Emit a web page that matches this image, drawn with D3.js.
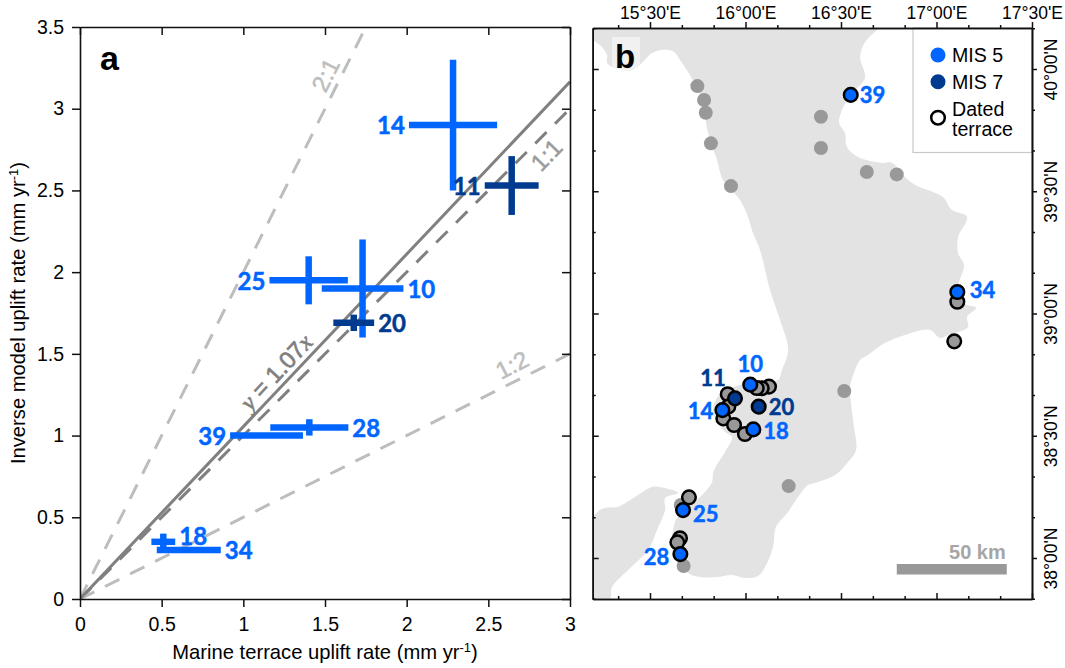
<!DOCTYPE html>
<html>
<head>
<meta charset="utf-8">
<script src="https://cdn.jsdelivr.net/npm/d3@7"></script>
<style>
  body { margin: 0; background: #fff; }
  text { font-family: "Liberation Sans", Arial, sans-serif; fill: #000; }
</style>
</head>
<body>
<div id="chart"></div>
<script>
// Panel a: uplift rates per site (mm/yr)
const siteIds = [14, 11, 25, 10, 20, 39, 28, 18, 34];
const terraceRate = [2.284, 2.643, 1.40, 1.73, 1.676, 1.142, 1.404, 0.51, 0.666];
const terraceErr = [0.27, 0.165, 0.24, 0.25, 0.125, 0.223, 0.239, 0.073, 0.196];
const modelRate = [2.90, 2.53, 1.95, 1.90, 1.69, 1.00, 1.05, 0.35, 0.30];
const modelErr = [0.40, 0.18, 0.147, 0.30, 0.05, 0, 0.05, 0.05, 0];
const siteStage = [5, 7, 5, 5, 7, 5, 5, 5, 5];

const refSlopes = [2, 1, 0.5];
const fitSlope = 1.055; // drawn slope
const xTicks = [0, 0.5, 1, 1.5, 2, 2.5, 3];
const yTicks = [0, 0.5, 1, 1.5, 2, 2.5, 3, 3.5];

// Panel b: coast outlines as [lon, lat]
const mainlandCoast = [
  [15.2, 40.119], [15.238, 40.098], [15.275, 40.057], [15.275, 40.025], [15.317, 40.004],
  [15.411, 39.996], [15.463, 40.029], [15.51, 40.065], [15.563, 40.078], [15.626, 40.07],
  [15.657, 40.037], [15.709, 39.975], [15.772, 39.873], [15.804, 39.738], [15.851, 39.628],
  [15.882, 39.546], [15.971, 39.464], [16.013, 39.395], [16.039, 39.329], [16.076, 39.26],
  [16.128, 39.096], [16.181, 38.973], [16.223, 38.851], [16.191, 38.769], [16.17, 38.728],
  [16.076, 38.728], [15.971, 38.708], [15.877, 38.679], [15.83, 38.614], [15.846, 38.564],
  [15.893, 38.515], [15.929, 38.495], [15.893, 38.434], [15.856, 38.389], [15.83, 38.348],
  [15.825, 38.311], [15.762, 38.249], [15.699, 38.209], [15.641, 38.164], [15.615, 38.086],
  [15.62, 38.02], [15.647, 37.98], [15.699, 37.939], [15.762, 37.922], [15.856, 37.922],
  [15.929, 37.93], [15.997, 37.918], [16.065, 37.926], [16.113, 37.98], [16.144, 38.045],
  [16.16, 38.127], [16.223, 38.188], [16.275, 38.249], [16.327, 38.299], [16.364, 38.307],
  [16.469, 38.339], [16.537, 38.393], [16.579, 38.442], [16.568, 38.536], [16.552, 38.634],
  [16.547, 38.699], [16.568, 38.757], [16.6, 38.81], [16.641, 38.83], [16.73, 38.879],
  [16.835, 38.912], [16.966, 38.933], [17.018, 38.9], [17.06, 38.912], [17.165, 38.945],
  [17.16, 38.986], [17.207, 39.023], [17.139, 39.043], [17.113, 39.108], [17.144, 39.198],
  [17.113, 39.247], [17.113, 39.313], [17.16, 39.395], [17.081, 39.423], [17.034, 39.476],
  [16.982, 39.497], [16.888, 39.526], [16.835, 39.558], [16.767, 39.616], [16.715, 39.616],
  [16.589, 39.64], [16.531, 39.681], [16.521, 39.738], [16.49, 39.779], [16.505, 39.832],
  [16.558, 39.902], [16.626, 39.963], [16.6, 40.049], [16.626, 40.11], [16.689, 40.16],
  [16.704, 40.168], [15.2, 40.168]
];
const sicilyCoast = [
  [15.2, 38.168], [15.238, 38.196], [15.264, 38.205], [15.332, 38.209], [15.421, 38.249],
  [15.51, 38.29], [15.552, 38.29], [15.647, 38.266], [15.579, 38.245], [15.579, 38.196],
  [15.537, 38.115], [15.49, 38.033], [15.385, 37.951], [15.301, 37.881], [15.29, 37.832],
  [15.2, 37.832]
];

// Sites on the map as [lon, lat]
const undatedSites = [
  [15.748, 39.93], [15.783, 39.873], [15.792, 39.821], [15.819, 39.696], [15.924, 39.521],
  [16.395, 39.805], [16.395, 39.677], [16.635, 39.579], [16.792, 39.569], [16.517, 38.683],
  [16.226, 38.294], [15.676, 37.967], [15.661, 38.217]
];
const datedSites = [
  [17.109, 39.048], [17.093, 38.886], [16.123, 38.701], [16.085, 38.694], [16.059, 38.695],
  [15.907, 38.67], [15.91, 38.619], [15.884, 38.571], [15.94, 38.544], [15.997, 38.507],
  [15.704, 38.248], [15.657, 38.081], [15.643, 38.064]
];
const mis5Ids = [39, 34, 10, 14, 18, 25, 28];
const mis5Sites = [
  [16.551, 39.894], [17.109, 39.088], [16.025, 38.709], [15.879, 38.605],
  [16.041, 38.526], [15.673, 38.196], [15.659, 38.016]
];
const mis7Ids = [11, 20];
const mis7Sites = [[15.945, 38.653], [16.069, 38.619]];

const lonMajor = [15.5, 16, 16.5, 17, 17.5];
const lonMinor = [15.3333, 15.6667, 15.8333, 16.1667, 16.3333, 16.6667, 16.8333, 17.1667, 17.3333];
const latMajor = [38, 38.5, 39, 39.5, 40];
const latMinor = [37.8333, 38.1667, 38.3333, 38.6667, 38.8333, 39.1667, 39.3333, 39.6667, 39.8333, 40.1667];
const scaleBarLon = [16.792, 17.368];

const BLUE = "#0066ff";
const NAVY = "#003b90";
const LABEL_FONT = "Lato, 'Liberation Sans', sans-serif";

const svg = d3.select("#chart").append("svg")
  .attr("width", 1065)
  .attr("height", 668)
  .style("display", "block");

const stageColor = (s) => (s === 5 ? BLUE : NAVY);

const styleAxis = (g, fontSize) => {
  g.selectAll("path").attr("stroke", "#111").attr("stroke-width", 1.6);
  g.selectAll("line").attr("stroke", "#111").attr("stroke-width", 1.5);
  g.selectAll("text")
    .attr("font-family", "'Liberation Sans', Arial, sans-serif")
    .attr("font-size", fontSize)
    .attr("fill", "#000");
};

/**
 * Panel a
 */
const x = d3.scaleLinear().domain([0, 3]).range([80, 570]);
const y = d3.scaleLinear().domain([0, 3.5]).range([599, 27]);
const numFormat = d3.format("~g");

const panelA = svg.append("g");

panelA.append("clipPath").attr("id", "clip-a").append("rect")
  .attr("x", x(0)).attr("y", y(3.5))
  .attr("width", x(3) - x(0)).attr("height", y(0) - y(3.5));

const lines = panelA.append("g").attr("clip-path", "url(#clip-a)");

refSlopes.forEach((s) => {
  const xEnd = Math.min(3, 3.5 / s);
  lines.append("line")
    .attr("x1", x(0)).attr("y1", y(0))
    .attr("x2", x(xEnd)).attr("y2", y(xEnd * s))
    .attr("stroke", s === 1 ? "#808080" : "#bdbdbd")
    .attr("stroke-width", 3)
    .attr("stroke-dasharray", "16,12");
});
lines.append("line")
  .attr("x1", x(0)).attr("y1", y(0))
  .attr("x2", x(3)).attr("y2", y(3 * fitSlope))
  .attr("stroke", "#808080")
  .attr("stroke-width", 3);

// Error bar crosses
const bars = panelA.append("g");
siteIds.forEach((id, i) => {
  const color = stageColor(siteStage[i]);
  bars.append("line")
    .attr("x1", x(terraceRate[i] - terraceErr[i])).attr("x2", x(terraceRate[i] + terraceErr[i]))
    .attr("y1", y(modelRate[i])).attr("y2", y(modelRate[i]))
    .attr("stroke", color).attr("stroke-width", 6.5);
  if (modelErr[i] > 0) {
    bars.append("line")
      .attr("x1", x(terraceRate[i])).attr("x2", x(terraceRate[i]))
      .attr("y1", y(modelRate[i] - modelErr[i])).attr("y2", y(modelRate[i] + modelErr[i]))
      .attr("stroke", color).attr("stroke-width", 6.5);
  }
});

// labels sit left or right of the horizontal bar
const leftLabels = [14, 11, 25, 39];
siteIds.forEach((id, i) => {
  const isLeft = leftLabels.includes(id);
  panelA.append("text")
    .attr("x", isLeft ? x(terraceRate[i] - terraceErr[i]) - 4 : x(terraceRate[i] + terraceErr[i]) + 4)
    .attr("y", y(modelRate[i]) + (id === 18 ? -5 : 1))
    .attr("dy", "0.35em")
    .attr("text-anchor", isLeft ? "end" : "start")
    .attr("font-size", 24)
    .attr("font-weight", 700)
    .attr("stroke", stageColor(siteStage[i]))
    .attr("stroke-width", 0.5)
    .style("font-family", LABEL_FONT)
    .style("fill", stageColor(siteStage[i]))
    .text(id);
});

panelA.append("g").attr("transform", `translate(0,${y(0)})`)
  .call(d3.axisBottom(x).tickValues(xTicks).tickFormat(numFormat).tickSize(8).tickSizeOuter(0).tickPadding(10))
  .call(styleAxis, 19.5);
panelA.append("g").attr("transform", `translate(${x(0)},0)`)
  .call(d3.axisLeft(y).tickValues(yTicks).tickFormat(numFormat).tickSize(8).tickSizeOuter(0).tickPadding(8))
  .call(styleAxis, 19.5);
panelA.append("g").attr("transform", `translate(0,${y(3.5)})`)
  .call(d3.axisBottom(x).tickValues(xTicks).tickFormat("").tickSize(8).tickSizeOuter(0))
  .call(styleAxis, 19.5);
panelA.append("g").attr("transform", `translate(${x(3)},0)`)
  .call(d3.axisLeft(y).tickValues(yTicks).tickFormat("").tickSize(8).tickSizeOuter(0))
  .call(styleAxis, 19.5);

const axisTitle = (parent, label, tx, ty, angle) => {
  const t = parent.append("text")
    .attr("transform", `translate(${tx},${ty}) rotate(${angle})`)
    .attr("text-anchor", "middle")
    .attr("font-size", 20.2);
  t.append("tspan").text(label + " (mm yr");
  t.append("tspan").attr("dy", -7).attr("font-size", 13).text("-1");
  t.append("tspan").attr("dy", 7).text(")");
};
axisTitle(panelA, "Marine terrace uplift rate", 325, 659, 0);
axisTitle(panelA, "Inverse model uplift rate", 25, 313, -90);

panelA.append("text")
  .attr("x", 100).attr("y", 70)
  .attr("font-size", 34).attr("font-weight", 700)
  .text("a");

const rotatedLabel = (label, cx, cy, angle, color) => panelA.append("text")
  .attr("transform", `translate(${cx},${cy}) rotate(${angle})`)
  .attr("text-anchor", "middle")
  .attr("dy", "0.35em")
  .attr("font-size", 24)
  .attr("stroke", color)
  .attr("stroke-width", 0.5)
  .style("fill", color)
  .text(label);
rotatedLabel("2:1", 325.5, 75, -63, "#bdbdbd");
rotatedLabel("1:1", 546.5, 155, -46, "#9a9a9a");
rotatedLabel("1:2", 512, 365, -27, "#bdbdbd");

const fitLabel = panelA.append("text")
  .attr("transform", "translate(276,372) rotate(-47)")
  .attr("text-anchor", "middle")
  .attr("dy", "0.35em")
  .attr("font-size", 23.5)
  .attr("stroke", "#808080")
  .attr("stroke-width", 0.7)
  .style("fill", "#808080");
fitLabel.append("tspan").style("font-family", "'Liberation Serif', serif").attr("font-style", "italic").text("y");
fitLabel.append("tspan").text(" = 1.07");
fitLabel.append("tspan").style("font-family", "'Liberation Serif', serif").attr("font-style", "italic").text("x");

/**
 * Panel b
 */
const lon = d3.scaleLinear().domain([15.2, 17.5]).range([592.7, 1032]);
const lat = d3.scaleLinear().domain([37.8323, 40.1677]).range([599, 28]);
const project = d3.line().x((d) => lon(d[0])).y((d) => lat(d[1]));
const smoothCoast = project.curve(d3.curveCatmullRom.alpha(0.5));

const panelB = svg.append("g");

panelB.append("clipPath").attr("id", "clip-b").append("rect")
  .attr("x", lon(15.2)).attr("y", lat(40.1677))
  .attr("width", lon(17.5) - lon(15.2)).attr("height", lat(37.8323) - lat(40.1677));

const map = panelB.append("g").attr("clip-path", "url(#clip-b)");
map.append("path").attr("d", smoothCoast(mainlandCoast) + "Z").attr("fill", "#e3e3e3");
map.append("path").attr("d", smoothCoast(sicilyCoast) + "Z").attr("fill", "#e3e3e3");

const drawSites = (sites, r, fill, stroke) => {
  map.append("g").selectAll("circle").data(sites).enter().append("circle")
    .attr("cx", (d) => lon(d[0]))
    .attr("cy", (d) => lat(d[1]))
    .attr("r", r)
    .attr("fill", fill)
    .attr("stroke", stroke)
    .attr("stroke-width", stroke === "none" ? 0 : 2.5);
};
drawSites(undatedSites, 7, "#999", "none");
drawSites(datedSites, 6.8, "#999", "#000");
drawSites(mis7Sites, 6.8, NAVY, "#000");
drawSites(mis5Sites, 6.8, BLUE, "#000");

// Label offsets from the site marker, in pixels: [dx, dy, anchor]
const mapLabelOffset = {
  39: [9, 0, "start"], 34: [12.5, -2, "start"], 10: [0, -20, "middle"], 14: [-9, 1, "end"],
  18: [10, 2, "start"], 25: [10, 4, "start"], 28: [-11, 3, "end"], 11: [-22, -20, "middle"],
  20: [10, 1, "start"]
};
const drawMapLabels = (ids, sites, color) => {
  ids.forEach((id, i) => {
    const [dx, dy, anchor] = mapLabelOffset[id];
    panelB.append("text")
      .attr("x", lon(sites[i][0]) + dx)
      .attr("y", lat(sites[i][1]) + dy)
      .attr("dy", "0.35em")
      .attr("text-anchor", anchor)
      .attr("font-size", 22)
      .attr("font-weight", 700)
      .attr("stroke", color)
      .attr("stroke-width", 0.5)
      .style("font-family", LABEL_FONT)
      .style("fill", color)
      .text(id);
  });
};
drawMapLabels(mis5Ids, mis5Sites, BLUE);
drawMapLabels(mis7Ids, mis7Sites, NAVY);

// Light patch behind the panel letter
panelB.append("rect")
  .attr("x", 612).attr("y", 37).attr("width", 28).attr("height", 33)
  .attr("fill", "#fff").attr("fill-opacity", 0.5);
panelB.append("text")
  .attr("x", 615).attr("y", 68)
  .attr("font-size", 33).attr("font-weight", 700)
  .text("b");

// Scale bar
panelB.append("rect")
  .attr("x", lon(scaleBarLon[0])).attr("y", 564)
  .attr("width", lon(scaleBarLon[1]) - lon(scaleBarLon[0])).attr("height", 10.5)
  .attr("fill", "#999");
panelB.append("text")
  .attr("x", lon(scaleBarLon[1]) - 1).attr("y", 559)
  .attr("text-anchor", "end")
  .attr("font-size", 20).attr("font-weight", 700)
  .style("fill", "#a6a6a6")
  .text("50 km");

// Legend
const legendX = 938;
panelB.append("rect")
  .attr("x", 913).attr("y", 28).attr("width", 119).attr("height", 124.5)
  .attr("fill", "#fff").attr("stroke", "#c8c8c8").attr("stroke-width", 1.2);
[[55, BLUE, "none"], [81.7, NAVY, "none"], [117.7, "#fff", "#000"]].forEach(([cy, fill, stroke]) => {
  panelB.append("circle")
    .attr("cx", legendX).attr("cy", cy)
    .attr("r", stroke === "none" ? 7.5 : 6.8)
    .attr("fill", fill).attr("stroke", stroke).attr("stroke-width", 2.5);
});
[["MIS 5", 62], ["MIS 7", 88.5]].forEach(([label, ty]) => {
  panelB.append("text")
    .attr("x", 952).attr("y", ty)
    .attr("font-size", 19.6)
    .text(label);
});
// two line entry, one text element
const datedLabel = panelB.append("text").attr("y", 116).attr("font-size", 19.6);
datedLabel.append("tspan").attr("x", 952).text("Dated");
datedLabel.append("tspan").attr("x", 952).attr("dy", 19.5).text("terrace");

// Coordinate axes: long ticks at 30', short at every 10'
const lonLabel = (d) => {
  const deg = Math.floor(d);
  return `${deg}°${d - deg > 0 ? "30" : "00"}'E`;
};
const latLabel = (d) => {
  const deg = Math.floor(d);
  return `${deg}°${d - deg > 0 ? "30" : "00"}'N`;
};

const lonAxes = panelB.append("g");
lonAxes.append("g").attr("transform", `translate(0,${lat(40.1677)})`)
  .call(d3.axisTop(lon).tickValues(lonMajor).tickFormat(lonLabel).tickSize(6).tickSizeOuter(0).tickPadding(3))
  .call(styleAxis, 17.5);
lonAxes.append("g").attr("transform", `translate(0,${lat(40.1677)})`)
  .call(d3.axisTop(lon).tickValues(lonMinor).tickFormat("").tickSize(3).tickSizeOuter(0))
  .call(styleAxis, 17.5);
lonAxes.append("g").attr("transform", `translate(0,${lat(37.8323)})`)
  .call(d3.axisTop(lon).tickValues(lonMajor).tickFormat("").tickSize(6).tickSizeOuter(0))
  .call(styleAxis, 17.5);
lonAxes.append("g").attr("transform", `translate(0,${lat(37.8323)})`)
  .call(d3.axisTop(lon).tickValues(lonMinor).tickFormat("").tickSize(3).tickSizeOuter(0))
  .call(styleAxis, 17.5);

const latAxes = panelB.append("g");
const rightAxis = latAxes.append("g").attr("transform", `translate(${lon(17.5)},0)`)
  .call(d3.axisRight(lat).tickValues(latMajor).tickFormat(latLabel).tickSize(5).tickSizeOuter(0))
  .call(styleAxis, 17.5);
rightAxis.selectAll("text")
  .attr("x", 0).attr("y", 0).attr("dy", null)
  .attr("text-anchor", "middle")
  .attr("transform", "translate(25,0) rotate(-90)");
latAxes.append("g").attr("transform", `translate(${lon(17.5)},0)`)
  .call(d3.axisRight(lat).tickValues(latMinor).tickFormat("").tickSize(3).tickSizeOuter(0))
  .call(styleAxis, 17.5);
latAxes.append("g").attr("transform", `translate(${lon(15.2)},0)`)
  .call(d3.axisRight(lat).tickValues(latMajor).tickFormat("").tickSize(6).tickSizeOuter(0))
  .call(styleAxis, 17.5);
latAxes.append("g").attr("transform", `translate(${lon(15.2)},0)`)
  .call(d3.axisRight(lat).tickValues(latMinor).tickFormat("").tickSize(3).tickSizeOuter(0))
  .call(styleAxis, 17.5);
</script>
</body>
</html>
